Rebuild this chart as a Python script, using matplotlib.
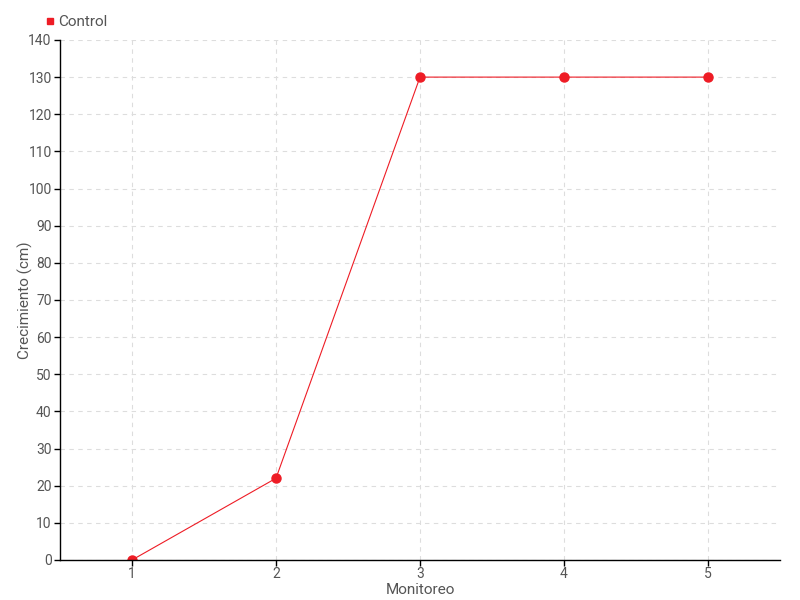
import matplotlib
matplotlib.use("Agg")
import matplotlib.pyplot as plt
from matplotlib.lines import Line2D

monitoreo = [1, 2, 3, 4, 5]
control = [0, 22, 130, 130, 130]
y_ticks = list(range(0, 141, 10))

plt.rcParams['font.family'] = ['Liberation Sans Narrow', 'Roboto', 'DejaVu Sans']
txt = '#555555'
red = '#ee1c25'

fig = plt.figure(figsize=(8, 6), dpi=100)
ax = fig.add_axes([0.075, 0.0667, 0.9, 0.8667])

ax.plot(monitoreo, control, color=red, lw=0.8, marker='o', ms=6.5,
        markeredgecolor=red)

ax.set_xlim(0.5, 5.5)
ax.set_ylim(0, 140)
ax.set_xticks(monitoreo)
ax.set_yticks(y_ticks)
ax.grid(True, color='#dddddd', ls=(0, (4, 4)), lw=0.8)
ax.set_axisbelow(True)
for s in ['top', 'right']:
    ax.spines[s].set_visible(False)
for s in ['left', 'bottom']:
    ax.spines[s].set_linewidth(1.0)
ax.tick_params(colors=txt, labelsize=10, length=4, width=1, pad=1)
ax.tick_params(axis='x', color='black')
ax.tick_params(axis='y', color='black', pad=2)

ax.set_xlabel('Monitoreo', color=txt, fontsize=11, va='top')
ax.xaxis.set_label_coords(0.5, -0.044)
ax.set_ylabel('Crecimiento (cm)', color=txt, fontsize=11, va='center')
ax.yaxis.set_label_coords(-0.0475, 0.5)

handle = Line2D([], [], color=red, marker='s', ls='none', ms=4)
leg = fig.legend([handle], ['Control'], loc='center left', bbox_to_anchor=(0.055, 0.963),
                 frameon=False, fontsize=11, handletextpad=0.1, handlelength=0.8,
                 borderaxespad=0, borderpad=0)
for t in leg.get_texts():
    t.set_color(txt)

fig.savefig('out.png', dpi=100)
